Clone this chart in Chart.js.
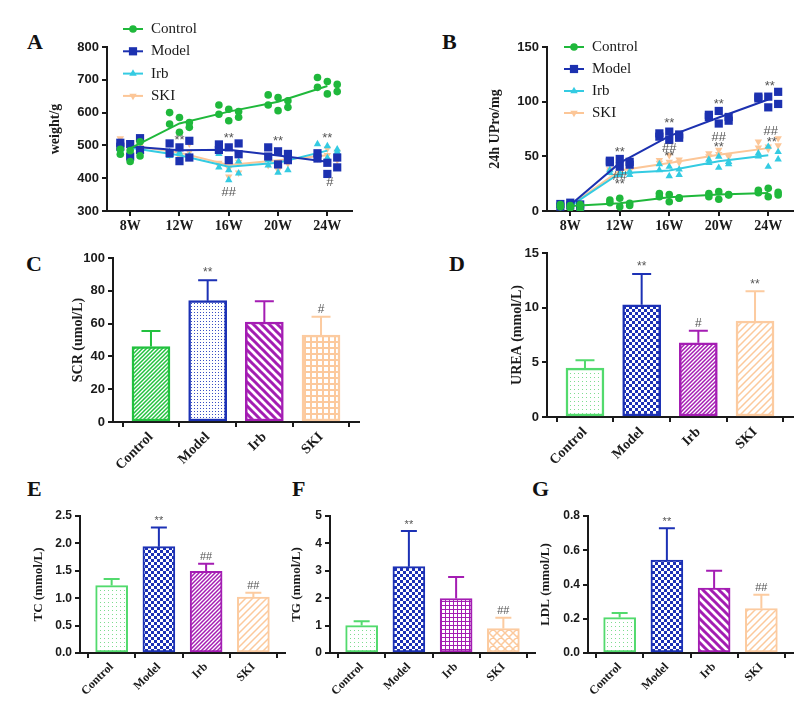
<!DOCTYPE html>
<html>
<head>
<meta charset="utf-8">
<script src="https://cdn.jsdelivr.net/npm/chart.js@4.4.1/dist/chart.umd.min.js"></script>
<style>
	body { margin: 0; background: #fff; }
	#page { position: relative; width: 808px; height: 725px; overflow: hidden; background: #fff; }
	.tag { position: absolute; font: bold 22px "Liberation Serif", serif; color: #111; line-height: 1; }
</style>
</head>
<body>
<div id="page">
	<div class="tag" style="left:27px;top:31px">A</div>
	<div class="tag" style="left:442px;top:31px">B</div>
	<div class="tag" style="left:26px;top:253px">C</div>
	<div class="tag" style="left:449px;top:253px">D</div>
	<div class="tag" style="left:27px;top:478px">E</div>
	<div class="tag" style="left:292px;top:478px">F</div>
	<div class="tag" style="left:532px;top:478px">G</div>
</div>
<script>
// groups and time points
const groups = ['Control', 'Model', 'Irb', 'SKI'];
const weeks = ['8W', '12W', '16W', '20W', '24W'];
// horizontal spread of the scatter dots around each week
const jitter = [-0.2, -0.2, 0, 0, 0.2, 0.2];

// A: body weight (g), six animals per group per week
const weightControl = [[488, 473, 484, 451, 511, 468], [600, 565, 585, 540, 555, 570], [623, 595, 610, 575, 603, 586], [654, 623, 646, 606, 636, 616], [707, 677, 695, 657, 686, 664]];
const weightModel = [[508, 496, 504, 466, 522, 486], [506, 476, 494, 452, 514, 463], [503, 486, 494, 455, 506, 473], [494, 466, 482, 442, 474, 455], [476, 460, 447, 413, 463, 433]];
const weightIrb = [[495, 488, 492, 500, 485, 490], [480, 468, 478, 447, 468, 462], [433, 474, 425, 394, 451, 415], [439, 455, 478, 417, 466, 425], [504, 474, 498, 462, 488, 480]];
const weightSki = [[521, 505, 498, 490, 500, 495], [478, 470, 490, 465, 505, 480], [447, 440, 405, 430, 417, 450], [440, 465, 425, 480, 470, 445], [474, 460, 490, 470, 455, 480]];
const weightMeans = [[491, 567, 603, 633, 681], [497, 485, 487, 469, 450], [493, 470, 435, 447, 484], [500, 478, 440, 455, 470]];
const weightMarks = [[1, 516, '**'], [2, 521, '**'], [2, 356, '##'], [3, 511, '**'], [4, 521, '**'], [4.05, 386, '#']];

// B: 24h urine protein (mg)
const uproControl = [[4, 6, 3, 5, 2, 6], [7.6, 10, 4, 11.6, 7, 5], [13, 16, 8.5, 15, 11.6, 12], [16, 13, 10.7, 17.7, 14.6, 15], [16.8, 19, 13, 20.7, 14.6, 17]];
const uproModel = [[6.4, 4, 7.6, 5, 3, 6], [44.5, 46, 47.6, 40.5, 42.4, 45], [68, 71, 72.6, 65, 67, 70], [86, 88, 91.5, 80, 82.6, 86], [104.6, 103, 104.6, 94.8, 109, 97.9]];
const uproIrb = [[5, 3, 4, 6, 5, 4], [37.5, 35, 34.4, 33, 33, 36], [43, 37.5, 32, 40.5, 33, 38], [44, 47, 49.7, 39.6, 43, 45], [52.7, 50, 58.8, 40.5, 54, 47.3]];
const uproSki = [[5, 4, 6, 3, 5, 4], [38, 36, 40, 35, 38, 37], [46.6, 44, 51, 45, 47, 44.5], [52.7, 50, 55.8, 52, 49.7, 51], [63.4, 58, 56.7, 58.8, 66.5, 60]];
const uproMeans = [[4.5, 7, 12.5, 15, 16.5], [5.5, 44, 68.5, 85.5, 102], [4.5, 34.5, 37, 45.5, 51], [5, 37, 44, 51.5, 57.5]];
const uproMarks = [[1, 54, '**'], [1, 31.4, '##'], [1, 24.4, '**'], [2, 80, '**'], [2, 57.3, '##'], [2, 49.7, '**'],
	[3, 97.9, '**'], [3, 67, '##'], [3, 58.2, '**'], [4.03, 114, '**'], [4.05, 73, '##'], [4.07, 62.5, '**']];

// C-G: bar means, SD and significance marks
const scrMean = [46, 74, 61, 53];
const scrSd = [9.5, 12.5, 12.7, 11.2];
const scrSig = ['', '**', '', '#'];
const ureaMean = [4.47, 10.27, 6.78, 8.78];
const ureaSd = [0.73, 2.8, 1.12, 2.72];
const ureaSig = ['', '**', '#', '**'];
const tcMean = [1.23, 1.94, 1.49, 1.02];
const tcSd = [0.12, 0.35, 0.14, 0.08];
const tcSig = ['', '**', '##', '##'];
const tgMean = [1.0, 3.15, 1.99, 0.89];
const tgSd = [0.16, 1.3, 0.78, 0.4];
const tgSig = ['', '**', '', '##'];
const ldlMean = [0.207, 0.542, 0.379, 0.26];
const ldlSd = [0.027, 0.186, 0.101, 0.08];
const ldlSig = ['', '**', '', '##'];

const INK = '#1a1a1a';
const SANS = '"Liberation Sans", Arial, sans-serif';
const SERIF = '"Liberation Serif", "Times New Roman", serif';

const lineGroups = [
	{ color: '#1fb83b', style: 'circle', r: 3.8, rot: 0 },
	{ color: '#1c31b0', style: 'rect', r: 5.8, rot: 0 },
	{ color: '#34cbe2', style: 'triangle', r: 4.3, rot: 0 },
	{ color: '#fcc697', style: 'triangle', r: 4.3, rot: 180 },
];

const makePattern = (kind, color) => {
	const sizes = { dots: 4, fineDots: 3, check: 6, hatch: 4, back: 8, fwd: 7, grid: 6, smallGrid: 4, diamond: 8 };
	const s = sizes[kind];
	const c = document.createElement('canvas');
	c.width = s;
	c.height = s;
	const g = c.getContext('2d');
	g.fillStyle = '#fff';
	g.fillRect(0, 0, s, s);
	g.fillStyle = color;
	g.strokeStyle = color;
	if (kind === 'dots' || kind === 'fineDots') {
		g.fillRect(1, 1, 1, 1);
	} else if (kind === 'check') {
		g.fillRect(0, 0, s / 2, s / 2);
		g.fillRect(s / 2, s / 2, s / 2, s / 2);
	} else if (kind === 'grid' || kind === 'smallGrid') {
		const w = kind === 'grid' ? 2 : 1;
		g.fillRect(0, 0, s, w);
		g.fillRect(0, 0, w, s);
	} else {
		g.lineWidth = kind === 'back' ? 3 : 1.5;
		g.beginPath();
		if (kind !== 'back') {
			g.moveTo(-1, 1); g.lineTo(1, -1);
			g.moveTo(0, s); g.lineTo(s, 0);
			g.moveTo(s - 1, s + 1); g.lineTo(s + 1, s - 1);
		}
		if (kind === 'back' || kind === 'diamond') {
			g.moveTo(-1, s - 1); g.lineTo(1, s + 1);
			g.moveTo(0, 0); g.lineTo(s, s);
			g.moveTo(s - 1, -1); g.lineTo(s + 1, 1);
		}
		g.stroke();
	}
	return g.createPattern(c, 'repeat');
};

const drawMarker = (ctx, m, x, y) => {
	ctx.fillStyle = m.color;
	ctx.beginPath();
	if (m.style === 'circle') {
		ctx.arc(x, y, m.r, 0, Math.PI * 2);
	} else if (m.style === 'rect') {
		const h = m.r * Math.SQRT1_2;
		ctx.rect(x - h, y - h, 2 * h, 2 * h);
	} else {
		const a = m.rot ? Math.PI : 0;
		for (let k = 0; k < 3; k++) {
			const t = a + (k * 2 * Math.PI) / 3;
			const px = x + Math.sin(t) * m.r;
			const py = y - Math.cos(t) * m.r;
			if (k) ctx.lineTo(px, py); else ctx.moveTo(px, py);
		}
		ctx.closePath();
	}
	ctx.fill();
};

const groupLegend = {
	id: 'groupLegend',
	afterDraw(chart, args, opts) {
		if (!opts.dx) return;
		const { ctx, chartArea } = chart;
		ctx.save();
		ctx.font = `15px ${SERIF}`;
		ctx.textBaseline = 'middle';
		groups.forEach((name, i) => {
			const m = lineGroups[i];
			const x = chartArea.left + opts.dx;
			const y = chartArea.top + opts.dy + i * opts.gap;
			ctx.strokeStyle = m.color;
			ctx.lineWidth = 2;
			ctx.beginPath();
			ctx.moveTo(x, y);
			ctx.lineTo(x + 20, y);
			ctx.stroke();
			drawMarker(ctx, m, x + 10, y);
			ctx.fillStyle = INK;
			ctx.fillText(name, x + 28, y);
		});
		ctx.restore();
	},
};

const sigMarks = {
	id: 'sigMarks',
	afterDatasetsDraw(chart, args, opts) {
		if (!opts.items) return;
		const { ctx, scales } = chart;
		ctx.save();
		ctx.font = `13px ${SANS}`;
		ctx.fillStyle = '#555';
		ctx.textAlign = 'center';
		ctx.textBaseline = 'middle';
		opts.items.forEach(([x, y, t]) => {
			ctx.fillText(t, scales.x.getPixelForValue(x), scales.y.getPixelForValue(y));
		});
		ctx.restore();
	},
};

const errorBars = {
	id: 'errorBars',
	afterDatasetsDraw(chart, args, opts) {
		if (!opts.sd) return;
		const { ctx, scales } = chart;
		const values = chart.data.datasets[0].data;
		chart.getDatasetMeta(0).data.forEach((bar, i) => {
			const top = scales.y.getPixelForValue(values[i].y + opts.sd[i]);
			const half = bar.width / 4;
			ctx.save();
			ctx.strokeStyle = opts.colors[i];
			ctx.lineWidth = 2;
			ctx.beginPath();
			ctx.moveTo(bar.x, bar.y);
			ctx.lineTo(bar.x, top);
			ctx.moveTo(bar.x - half, top);
			ctx.lineTo(bar.x + half, top);
			ctx.stroke();
			if (opts.sig[i]) {
				ctx.fillStyle = '#555';
				ctx.font = `${opts.sigSize}px ${SANS}`;
				ctx.textAlign = 'center';
				ctx.textBaseline = 'bottom';
				ctx.fillText(opts.sig[i], bar.x, top - 1);
			}
			ctx.restore();
		});
	},
};

Chart.register(groupLegend, sigMarks, errorBars);

const page = document.getElementById('page');

const panel = (box, area, config) => {
	const div = document.createElement('div');
	div.style.cssText = `position:absolute;left:${box.x}px;top:${box.y}px;width:${box.w}px;height:${box.h}px`;
	const canvas = document.createElement('canvas');
	div.appendChild(canvas);
	page.appendChild(div);
	const o = config.options;
	o.responsive = true;
	o.maintainAspectRatio = false;
	o.animation = false;
	o.layout = { padding: { left: 0, right: box.x + box.w - area.right, top: area.top - box.y, bottom: 0 } };
	o.scales.y.afterFit = (s) => { s.width = area.left - box.x; };
	o.scales.x.afterFit = (s) => { s.height = box.y + box.h - area.bottom; };
	return new Chart(canvas, config);
};

const axisLines = {
	grid: { drawOnChartArea: false, tickLength: 5, color: INK, lineWidth: 2 },
	border: { color: INK, width: 2 },
};

const yAxis = (min, max, step, title, tickSize, titleSize, decimals) => ({
	min,
	max,
	...axisLines,
	ticks: {
		stepSize: step,
		color: INK,
		padding: 3,
		font: { family: SANS, weight: 'bold', size: tickSize },
		callback: (v) => v.toFixed(decimals),
	},
	title: {
		display: true,
		text: title,
		color: INK,
		padding: 0,
		font: { family: SERIF, weight: 'bold', size: titleSize },
	},
});

const xAxis = (min, max, labels, fontSize, rotation) => ({
	type: 'linear',
	min,
	max,
	offset: false,
	...axisLines,
	afterBuildTicks: (s) => { s.ticks = labels.map((_, i) => ({ value: i })); },
	ticks: {
		color: INK,
		padding: 2,
		autoSkip: false,
		minRotation: rotation,
		maxRotation: rotation,
		font: { family: SERIF, weight: 'bold', size: fontSize },
		callback: (v) => labels[v],
	},
});

const lineDatasets = (pointSets, means) =>
	lineGroups.flatMap((g, k) => [
		{
			data: pointSets[k].flatMap((vals, i) => vals.map((v, j) => ({ x: i + jitter[j], y: v }))),
			showLine: false,
			pointStyle: g.style,
			pointRadius: g.r,
			pointRotation: g.rot,
			pointBackgroundColor: g.color,
			pointBorderColor: g.color,
			pointBorderWidth: 0,
		},
		{
			data: means[k].map((v, i) => ({ x: i, y: v })),
			showLine: true,
			borderColor: g.color,
			borderWidth: 2,
			pointRadius: 0,
		},
	]);

const lineChart = (box, area, pointSets, means, marks, yOpts, legendPos) =>
	panel(box, area, {
		type: 'scatter',
		data: { datasets: lineDatasets(pointSets, means) },
		options: {
			plugins: {
				legend: { display: false },
				tooltip: { enabled: false },
				groupLegend: legendPos,
				sigMarks: { items: marks },
			},
			scales: { x: xAxis(-0.47, 4.5, weeks, 14, 0), y: yOpts },
		},
	});

lineChart(
	{ x: 47, y: 15, w: 313, h: 225 },
	{ left: 107, top: 47, right: 352, bottom: 211 },
	[weightControl, weightModel, weightIrb, weightSki],
	weightMeans,
	weightMarks,
	yAxis(300, 800, 100, 'weight/g', 13, 14, 0),
	{ dx: 16, dy: -18, gap: 22.3 },
);

lineChart(
	{ x: 487, y: 30, w: 313, h: 210 },
	{ left: 547, top: 47, right: 793, bottom: 211 },
	[uproControl, uproModel, uproIrb, uproSki],
	uproMeans,
	uproMarks,
	yAxis(0, 150, 50, '24h UPro/mg', 13, 14, 0),
	{ dx: 17, dy: 0, gap: 22 },
);

const barChart = (box, area, means, sds, sig, yOpts, styles, sizes) => {
	const fills = styles.map(([kind, color]) => makePattern(kind, color));
	const edges = styles.map((s) => s[2]);
	return panel(box, area, {
		type: 'bar',
		data: {
			datasets: [{
				data: means.map((v, i) => ({ x: i, y: v })),
				backgroundColor: fills,
				borderColor: edges,
				borderWidth: sizes.border,
				borderSkipped: false,
				barThickness: sizes.bar,
			}],
		},
		options: {
			plugins: {
				legend: { display: false },
				tooltip: { enabled: false },
				errorBars: { sd: sds, sig, colors: edges, sigSize: sizes.sig },
			},
			scales: { x: xAxis(-0.67, 3.67, groups, sizes.label, 45), y: yOpts },
		},
	});
};

const GREEN_BAR = '#52da6d';
const BLUE_BAR = '#1c31b5';
const PURPLE_BAR = '#a41db3';
const PEACH_BAR = '#fccba0';

barChart(
	{ x: 70, y: 245, w: 295, h: 235 },
	{ left: 113, top: 258, right: 359, bottom: 422 },
	scrMean, scrSd, scrSig,
	yAxis(0, 100, 20, 'SCR (umol/L)', 13, 14, 0),
	[['hatch', '#22c13f', '#22c13f'], ['fineDots', '#3a4fc4', BLUE_BAR], ['back', PURPLE_BAR, PURPLE_BAR], ['grid', '#fcc99c', PEACH_BAR]],
	{ bar: 38, border: 2.5, label: 14, sig: 12 },
);

barChart(
	{ x: 509, y: 240, w: 291, h: 235 },
	{ left: 547, top: 253, right: 793, bottom: 417 },
	ureaMean, ureaSd, ureaSig,
	yAxis(0, 15, 5, 'UREA (mmol/L)', 13, 14, 0),
	[['dots', '#7fdc90', GREEN_BAR], ['check', BLUE_BAR, BLUE_BAR], ['hatch', PURPLE_BAR, PURPLE_BAR], ['fwd', '#fcc99c', PEACH_BAR]],
	{ bar: 38, border: 2.5, label: 14, sig: 12 },
);

barChart(
	{ x: 31, y: 505, w: 259, h: 195 },
	{ left: 80, top: 516, right: 285, bottom: 653 },
	tcMean, tcSd, tcSig,
	yAxis(0, 2.5, 0.5, 'TC (mmol/L)', 12, 13, 1),
	[['dots', '#7fdc90', GREEN_BAR], ['check', BLUE_BAR, BLUE_BAR], ['hatch', PURPLE_BAR, PURPLE_BAR], ['fwd', '#fcc99c', PEACH_BAR]],
	{ bar: 32, border: 2, label: 12, sig: 11 },
);

barChart(
	{ x: 289, y: 505, w: 251, h: 195 },
	{ left: 330, top: 516, right: 535, bottom: 653 },
	tgMean, tgSd, tgSig,
	yAxis(0, 5, 1, 'TG (mmol/L)', 12, 13, 0),
	[['dots', '#7fdc90', GREEN_BAR], ['check', BLUE_BAR, BLUE_BAR], ['smallGrid', PURPLE_BAR, PURPLE_BAR], ['diamond', '#fcc99c', PEACH_BAR]],
	{ bar: 32, border: 2, label: 12, sig: 11 },
);

barChart(
	{ x: 538, y: 505, w: 262, h: 195 },
	{ left: 588, top: 516, right: 793, bottom: 653 },
	ldlMean, ldlSd, ldlSig,
	yAxis(0, 0.8, 0.2, 'LDL (mmol/L)', 12, 13, 1),
	[['dots', '#7fdc90', GREEN_BAR], ['check', BLUE_BAR, BLUE_BAR], ['back', PURPLE_BAR, PURPLE_BAR], ['fwd', '#fcc99c', PEACH_BAR]],
	{ bar: 32, border: 2, label: 12, sig: 11 },
);
</script>
</body>
</html>
